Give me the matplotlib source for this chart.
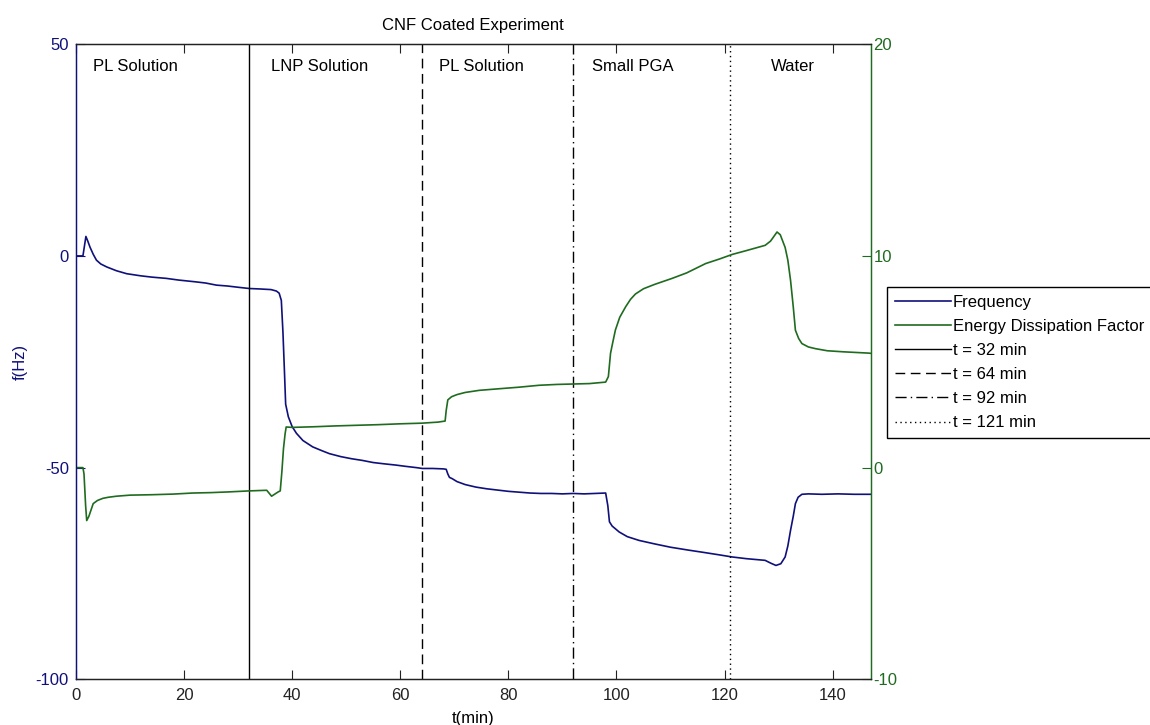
import numpy as np
import matplotlib
matplotlib.use("Agg")
import matplotlib.pyplot as plt

plt.rcParams['font.family'] = ['Liberation Sans', 'DejaVu Sans']
plt.rcParams['font.size'] = 12
plt.rcParams['axes.unicode_minus'] = False

# frequency shift (left axis, Hz)
t_freq = [0, 1.3, 1.6, 1.85, 2.2, 2.6, 3.2, 3.8, 4.6, 5.7, 7.5, 9.4, 12, 14, 16.7, 19, 22, 24, 26, 28,
          30, 32.1, 34, 36.1, 37.1, 37.6, 38.0, 38.3, 38.6, 38.8, 39.3, 40, 40.8, 42, 43.8, 45.5, 46.9, 49,
          51, 53, 55, 57, 59.2, 61, 63, 64.1, 66, 68.0, 68.5, 68.8, 69.1, 69.6, 70.5, 72, 74, 76, 78, 80,
          82, 84, 86, 88, 90, 92, 94, 96, 98.0, 98.4, 98.7, 99.2, 100.5, 102, 104.2, 107, 110, 113.4, 116,
          119, 121.4, 124, 127.5, 128.6, 129.5, 130.4, 131.2, 131.7, 132.2, 132.7, 133.1, 133.6, 134.3,
          135.5, 138, 141, 144, 147]
freq = [0, 0, 2.5, 4.6, 3.5, 2.1, 0.4, -1.0, -1.9, -2.6, -3.5, -4.2, -4.7, -5.0, -5.3, -5.7, -6.1, -6.4,
        -6.9, -7.1, -7.4, -7.7, -7.8, -7.95, -8.3, -8.8, -10.5, -18, -28, -35, -38, -40.3, -41.9, -43.6,
        -45.1, -46.0, -46.7, -47.4, -47.9, -48.3, -48.8, -49.1, -49.4, -49.7, -50.0, -50.2, -50.2, -50.3,
        -50.4, -51.5, -52.3, -52.6, -53.3, -54.0, -54.6, -55.0, -55.3, -55.6, -55.8, -56.0, -56.1, -56.1,
        -56.2, -56.1, -56.2, -56.1, -56.0, -59, -62.8, -63.8, -65.2, -66.3, -67.2, -68.0, -68.8, -69.5,
        -70.0, -70.6, -71.1, -71.5, -71.9, -72.6, -73.1, -72.7, -71.1, -68.5, -64.8, -61.5, -58.5, -57.0,
        -56.3, -56.2, -56.3, -56.2, -56.3, -56.3]

# energy dissipation factor (right axis)
t_diss = [0, 1.3, 1.5, 1.8, 2.0, 2.4, 3.2, 4, 5, 6, 7.5, 10, 14, 18, 21.6, 25, 28, 32, 35.3, 36.2, 37.4,
          37.8, 38.1, 38.4, 38.7, 38.9, 40, 44, 48, 52, 56, 60, 64, 67, 68.3, 68.5, 68.8, 69.5, 70.5, 72,
          74.6, 78, 82, 85.7, 89, 92, 95, 98, 98.5, 98.9, 99.3, 99.8, 100.6, 101.7, 102.6, 103.5, 105, 107,
          110.3, 113, 116.5, 119, 121.4, 124, 127.5, 128.5, 129.2, 129.7, 130.3, 131.2, 131.7, 132.2,
          132.7, 133.1, 133.7, 134.3, 135.5, 136.8, 139, 142, 146.6, 147]
diss = [0, 0, -0.3, -1.8, -2.5, -2.3, -1.7, -1.55, -1.45, -1.4, -1.35, -1.3, -1.28, -1.25, -1.2, -1.18,
        -1.15, -1.1, -1.07, -1.35, -1.15, -1.1, -0.2, 0.9, 1.6, 1.92, 1.9, 1.93, 1.97, 2.0, 2.03, 2.07,
        2.1, 2.15, 2.2, 2.7, 3.2, 3.35, 3.45, 3.55, 3.65, 3.72, 3.8, 3.89, 3.93, 3.95, 3.97, 4.04, 4.3,
        5.4, 5.9, 6.5, 7.1, 7.6, 7.95, 8.2, 8.45, 8.65, 8.94, 9.2, 9.64, 9.85, 10.07, 10.25, 10.5, 10.7,
        10.95, 11.13, 11.0, 10.4, 9.8, 8.85, 7.6, 6.49, 6.1, 5.86, 5.7, 5.62, 5.52, 5.47, 5.41, 5.4]

switch_times = [32, 64, 92, 121]
switch_styles = ['-', (0, (7, 4)), (0, (8, 3, 1, 3)), (0, (1, 2.5))]
phase_labels = ['PL Solution', 'LNP Solution', 'PL Solution', 'Small PGA', 'Water']
phase_pos = [11.1, 45, 75, 103, 132.6]

navy = '#10107a'
green = '#1f6b1f'

fig = plt.figure(figsize=(11.5, 7.25), dpi=100)
ax1 = fig.add_axes([0.066, 0.063, 0.691, 0.876])
ax2 = ax1.twinx()

l1, = ax1.plot(t_freq, freq, color=navy, lw=1.2, label='Frequency')
l2, = ax2.plot(t_diss, diss, color=green, lw=1.2, label='Energy Dissipation Factor')

vls = []
for t, ls in zip(switch_times, switch_styles):
    v = ax1.axvline(t, color='black', lw=1.0, linestyle=ls, label='t = %d min' % t)
    vls.append(v)

for x, s in zip(phase_pos, phase_labels):
    ax1.text(x, 44.8, s, ha='center', va='center', fontsize=12)

ax1.set_xlim(0, 147)
ax1.set_ylim(-100, 50)
ax2.set_ylim(-10, 20)
ax1.set_xticks(np.arange(0, 141, 20))
ax1.set_yticks([-100, -50, 0, 50])
ax2.set_yticks([-10, 0, 10, 20])

ax1.tick_params(axis='x', direction='in', top=True, length=6.5, width=0.8, pad=6, colors='#222222')
ax1.tick_params(axis='y', direction='in', length=6.5, width=0.8, pad=5, colors=navy)
ax2.tick_params(axis='y', direction='in', length=6.5, width=0.8, pad=2, colors=green)

for ax in (ax1, ax2):
    for sp in ax.spines.values():
        sp.set_linewidth(0.9)
        sp.set_color('#222222')
ax1.spines['left'].set_color(navy)
ax2.spines['left'].set_color(navy)
ax2.spines['right'].set_color(green)
ax1.spines['right'].set_color(green)

ax1.set_xlabel('t(min)', labelpad=6)
ax1.set_ylabel('f(Hz)', color=navy, labelpad=6)
ax1.set_title('CNF Coated Experiment', fontsize=12, pad=10)

handles = [l1, l2] + vls
fig.legend(handles=handles, loc='upper left', bbox_to_anchor=(887 / 1150, 1 - 287 / 725),
           frameon=True, fancybox=False, edgecolor='black', framealpha=1,
           handlelength=3.4, handletextpad=0.1, labelspacing=0.55, borderaxespad=0,
           borderpad=0.45, fontsize=12)

fig.savefig('out.png', dpi=100)
